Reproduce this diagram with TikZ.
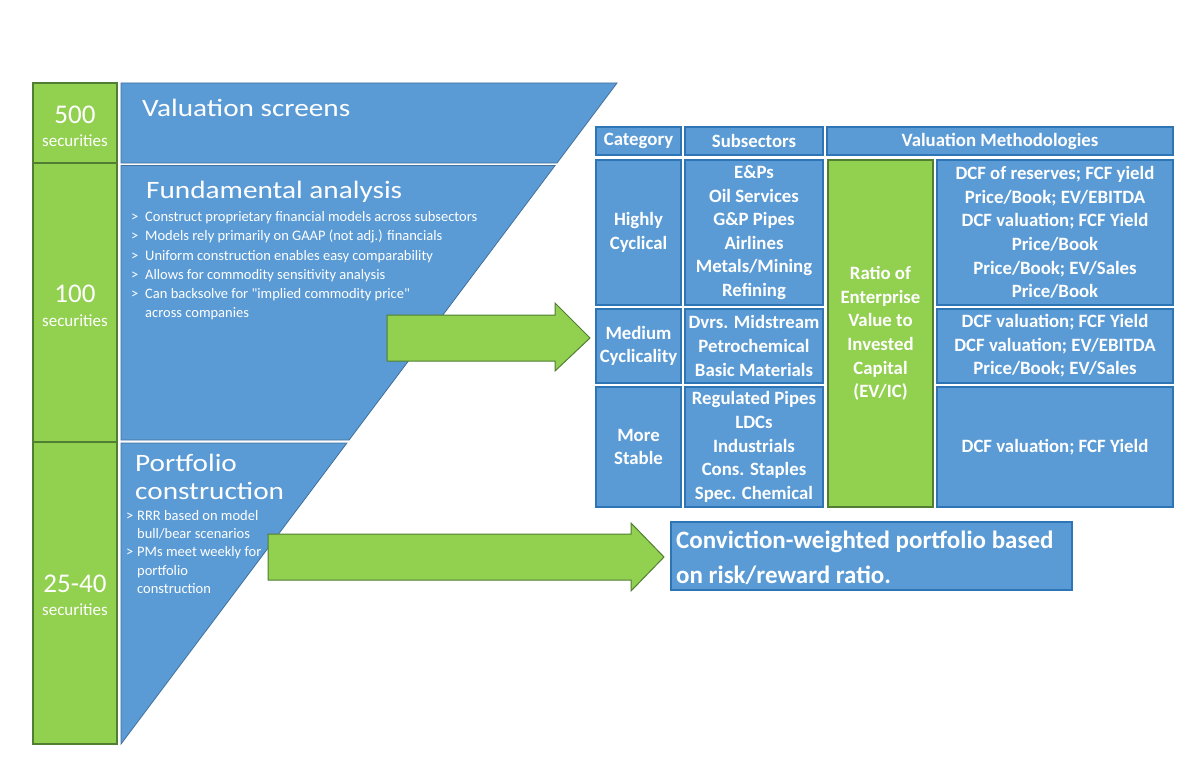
\documentclass[tikz,border=0pt]{standalone}
\usepackage{fontspec}
\setmainfont{Carlito}
\newfontfamily\headfont[FakeStretch=1.17]{Carlito}
\newfontfamily\quotefont[Ligatures=TeXOff]{Carlito}
\newcommand{\sq}{{\quotefont"}}
\definecolor{bluefill}{HTML}{5B9BD5}
\definecolor{blueborder}{HTML}{41719C}
\definecolor{cellborder}{HTML}{2E75B6}
\definecolor{greenfill}{HTML}{92D050}
\definecolor{greenborder}{HTML}{507E32}
\begin{document}
\begin{tikzpicture}[x=1pt,y=-1pt,
  gbox/.style={draw=greenborder, fill=greenfill, line width=1.5pt, inner sep=0pt},
  band/.style={fill=bluefill, draw=blueborder, line width=0.8pt},
  cell/.style={draw=cellborder, fill=bluefill, line width=1.5pt, text=white, inner sep=0pt,
    font=\bfseries\fontsize{18.8}{23.6}\selectfont, align=center},
  gcell/.style={cell, draw=greenborder, fill=greenfill},
  num/.style={text=white, anchor=base, font=\fontsize{27}{30}\selectfont, inner sep=0pt},
  sec/.style={text=white, anchor=base, font=\fontsize{17}{20}\selectfont, inner sep=0pt},
  head/.style={text=white, anchor=base west, font=\headfont\fontsize{25}{27.6}\selectfont, inner sep=0pt, align=left},
  bul/.style={text=white, anchor=base west, font=\fontsize{14.5}{19.2}\selectfont, inner sep=0pt, align=left},
  bigarrow/.style={fill=greenfill, draw=greenborder, line width=1pt}
]
\useasboundingbox (0,0) rectangle (1200,784);
\fill[white] (0,0) rectangle (1200,784);

% left green column
\node[gbox, minimum width=84, minimum height=80] (g500) at (75,123) {};
\node[gbox, minimum width=84, minimum height=279] (g100) at (75,302.5) {};
\node[gbox, minimum width=84, minimum height=302] (g25) at (75,593) {};
\node[num] (t500) at (75,123) {500};
\node[sec] (s500) at (75,146.5) {securities};
\node[num] (t100) at (75,302) {100};
\node[sec] (s100) at (75,326) {securities};
\node[num] (t25) at (75,592.5) {25-40};
\node[sec] (s25) at (75,615.5) {securities};

% funnel bands
\fill[band] (121,83) -- (617,83) -- (557,163) -- (121,163) -- cycle;
\fill[band] (121,165.5) -- (555.1,165.5) -- (349.1,440) -- (121,440) -- cycle;
\fill[band] (121,443) -- (346.9,443) -- (121,744) -- cycle;

\node[head] (hval) at (142,117) {Valuation screens};
\node[head] (hfun) at (146,198) {Fundamental analysis};
\node[bul] (bfun) at (131,317.7) {\makebox[14pt][l]{>}Construct proprietary financial models across subsectors\\
\makebox[14pt][l]{>}Models rely primarily on GAAP (not adj.) financials\\
\makebox[14pt][l]{>}Uniform construction enables easy comparability\\
\makebox[14pt][l]{>}Allows for commodity sensitivity analysis\\
\makebox[14pt][l]{>}Can backsolve for \sq implied commodity price\sq\\
\hspace*{14pt}across companies};
\node[head] (hpor) at (135,499.3) {Portfolio\\construction};
\node[bul, font=\fontsize{14.5}{18.3}\selectfont] (bpor) at (126,593.3) {\makebox[11pt][l]{>}RRR based on model\\
\hspace*{11pt}bull/bear scenarios\\
\makebox[11pt][l]{>}PMs meet weekly for\\
\hspace*{11pt}portfolio\\
\hspace*{11pt}construction};

% arrows
\fill[bigarrow] (387,315) -- (555,315) -- (555,303) -- (590,338) -- (555,371) -- (555,361) -- (387,361) -- cycle;
\fill[bigarrow] (268,534) -- (631,534) -- (631,523) -- (664,557) -- (631,591) -- (631,580) -- (268,580) -- cycle;

% table
\node[cell, minimum width=85, minimum height=28] (hcat) at (638.5,141) {Category};
\node[cell, minimum width=138, minimum height=28] (hsub) at (754,141) {Subsectors};
\node[cell, minimum width=346, minimum height=28] (hmeth) at (1000,141) {Valuation Methodologies};

\node[cell, minimum width=85, minimum height=145] (cat1) at (638.5,232.5) {Highly\\Cyclical};
\node[cell, minimum width=138, minimum height=145] (sub1) at (754,232.5) {E\&Ps\\Oil Services\\G\&P Pipes\\Airlines\\Metals/Mining\\Refining};
\node[cell, minimum width=85, minimum height=74] (cat2) at (638.5,346) {Medium\\Cyclicality};
\node[cell, minimum width=138, minimum height=74] (sub2) at (754,346) {Dvrs. Midstream\\Petrochemical\\Basic Materials};
\node[cell, minimum width=85, minimum height=120] (cat3) at (638.5,447) {More\\Stable};
\node[cell, minimum width=138, minimum height=120] (sub3) at (754,447) {Regulated Pipes\\LDCs\\Industrials\\Cons. Staples\\Spec. Chemical};

\node[gcell, minimum width=105, minimum height=347] (evic) at (880.5,333.5) {Ratio of\\Enterprise\\Value to\\Invested\\Capital\\(EV/IC)};

\node[cell, minimum width=236, minimum height=145] (val1) at (1055,232.5) {DCF of reserves; FCF yield\\Price/Book; EV/EBITDA\\DCF valuation; FCF Yield\\Price/Book\\Price/Book; EV/Sales\\Price/Book};
\node[cell, minimum width=236, minimum height=74] (val2) at (1055,346) {DCF valuation; FCF Yield\\DCF valuation; EV/EBITDA\\Price/Book; EV/Sales};
\node[cell, minimum width=236, minimum height=120] (val3) at (1055,447) {DCF valuation; FCF Yield};

% bottom result box
\node[cell, minimum width=401, minimum height=68] (result) at (871.5,556) {};
\node[text=white, anchor=base west, inner sep=0pt, align=left,
  font=\bfseries\fontsize{25}{34.7}\selectfont] (resulttxt) at (676,583.5) {Conviction-weighted portfolio based\\on risk/reward ratio.};
\end{tikzpicture}
\end{document}
